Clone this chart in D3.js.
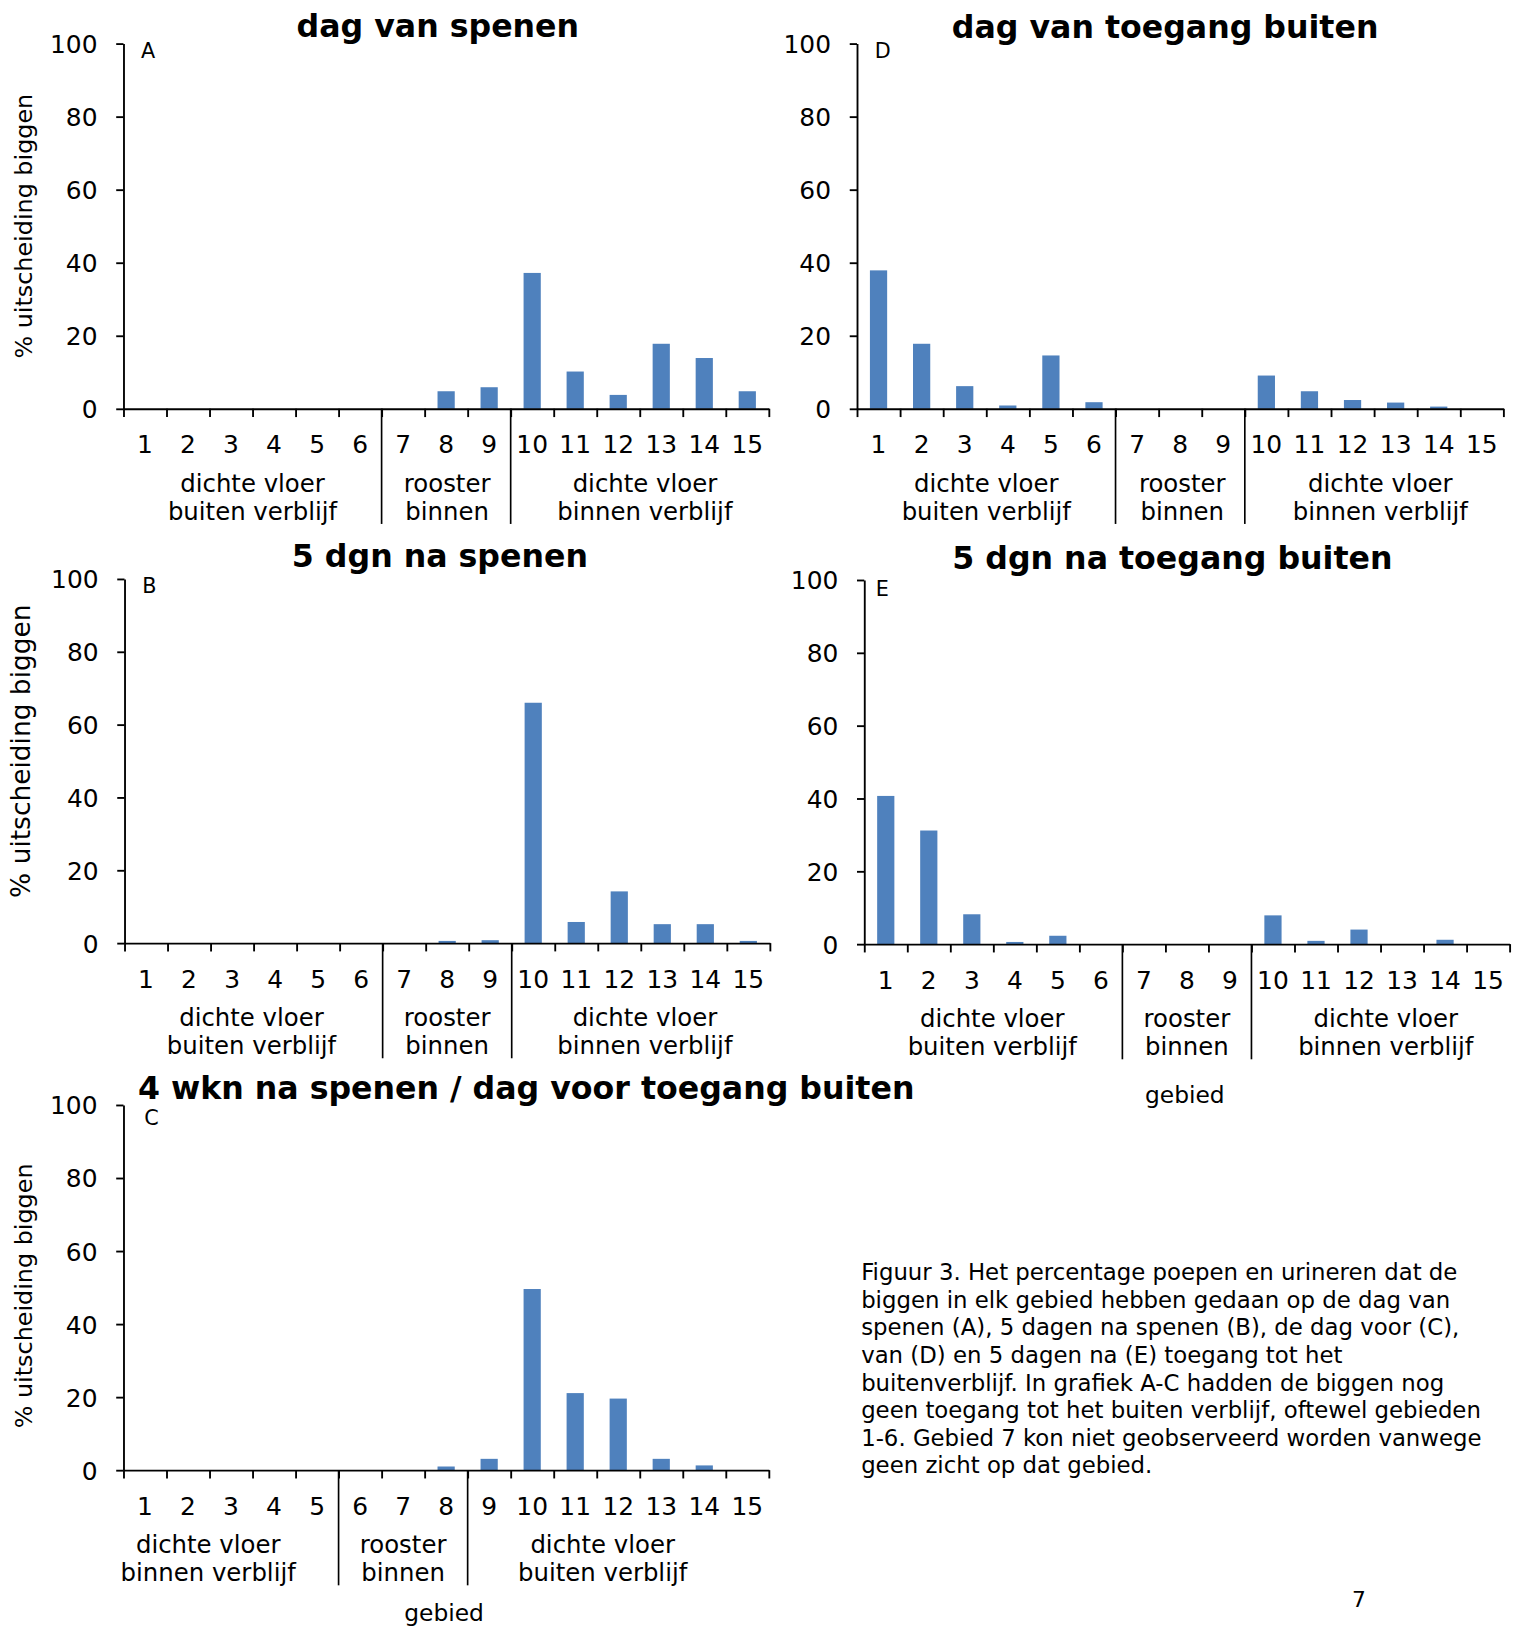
<!DOCTYPE html>
<html>
<head>
<meta charset="utf-8">
<script src="https://cdn.jsdelivr.net/npm/d3@7"></script>
<style>
  body { margin: 0; background: #fff; }
  svg { display: block; }
  text { font-family: "DejaVu Sans", Verdana, sans-serif; fill: #000; }
</style>
</head>
<body>
<svg id="fig"></svg>
<script>
// data
const categories = ["1","2","3","4","5","6","7","8","9","10","11","12","13","14","15"];
const yTicks = [0, 20, 40, 60, 80, 100];

const valuesA = [0, 0, 0, 0, 0, 0, 0, 4.8, 5.9, 37.2, 10.2, 3.8, 17.8, 13.9, 4.8];
const valuesB = [0, 0, 0, 0, 0, 0, 0, 0.6, 0.8, 66.0, 5.8, 14.2, 5.2, 5.2, 0.6];
const valuesC = [0, 0, 0, 0, 0, 0, 0, 1.0, 3.1, 49.6, 21.1, 19.6, 3.1, 1.3, 0];
const valuesD = [37.9, 17.8, 6.2, 0.9, 14.6, 1.8, 0, 0, 0, 9.1, 4.8, 2.4, 1.7, 0.6, 0];
const valuesE = [40.7, 31.2, 8.2, 0.6, 2.3, 0, 0, 0, 0, 7.9, 0.9, 4.0, 0, 1.2, 0];

const groupsStd = [
    { from: 0, to: 6, lines: ["dichte vloer", "buiten verblijf"] },
    { from: 6, to: 9, lines: ["rooster", "binnen"] },
    { from: 9, to: 15, lines: ["dichte vloer", "binnen verblijf"] }
];
const groupsC = [
    { from: 0, to: 5, lines: ["dichte vloer", "binnen verblijf"] },
    { from: 5, to: 8, lines: ["rooster", "binnen"] },
    { from: 8, to: 15, lines: ["dichte vloer", "buiten verblijf"] }
];

const yLabel = "% uitscheiding biggen";
const xLabel = "gebied";

const caption = [
    "Figuur 3. Het percentage poepen en urineren dat de",
    "biggen in elk gebied hebben gedaan op de dag van",
    "spenen (A), 5 dagen na spenen (B), de dag voor (C),",
    "van (D) en 5 dagen na (E) toegang tot het",
    "buitenverblijf. In grafiek A-C hadden de biggen nog",
    "geen toegang tot het buiten verblijf, oftewel gebieden",
    "1-6. Gebied 7 kon niet geobserveerd worden vanwege",
    "geen zicht op dat gebied."
];

// layout (drawn on a 1466 wide grid, then scaled to the window)
const W = 1521, H = 1627, base = 1466;
const barColor = "#4f81bd";

const panels = [
    { letter: "A", title: "dag van spenen", values: valuesA, groups: groupsStd, shift: [0, 1, 5],
      x0: 119, x1: 741, y0: 394, y1: 42, titleX: 422, titleY: 36, anchor: "middle",
      letterDx: 17, letterDy: 14, yLab: { y: 218, size: 23, x: 31 } },
    { letter: "D", title: "dag van toegang buiten", values: valuesD, groups: groupsStd, shift: [0, 2, 6],
      x0: 826, x1: 1449, y0: 394, y1: 42, titleX: 1123, titleY: 36.5, anchor: "middle",
      letterDx: 17, letterDy: 14 },
    { letter: "B", title: "5 dgn na spenen", values: valuesB, groups: groupsStd, shift: [-2, 0, 4],
      x0: 120, x1: 742, y0: 909, y1: 558, titleX: 424, titleY: 546.5, anchor: "middle",
      letterDx: 17, letterDy: 14, yLab: { y: 724, size: 25.5, x: 29 } },
    { letter: "E", title: "5 dgn na toegang buiten", values: valuesE, groups: groupsStd, shift: [-1, 0, 5],
      x0: 833, x1: 1455, y0: 910, y1: 559, titleX: 1130, titleY: 548, anchor: "middle",
      letterDx: 11, letterDy: 15, xLab: { x: 1142, y: 1063 } },
    { letter: "C", title: "4 wkn na spenen / dag voor toegang buiten", values: valuesC, groups: groupsC, shift: [-22, 0, -15],
      x0: 119, x1: 741, y0: 1417, y1: 1065, titleX: 133, titleY: 1059, anchor: "start",
      letterDx: 20, letterDy: 19, yLab: { y: 1249, size: 23, x: 31 }, xLab: { x: 428, y: 1562 } }
];

const svg = d3.select("#fig").attr("width", W).attr("height", H);
const root = svg.append("g").attr("transform", `scale(${W / base})`);

const drawPanel = (p) => {
    const g = root.append("g");

    const x = d3.scaleBand()
        .domain(categories)
        .range([p.x0, p.x1])
        .paddingInner(0.6)
        .paddingOuter(0.3);
    const xEdge = d3.scaleLinear().domain([0, categories.length]).range([p.x0, p.x1]);
    const y = d3.scaleLinear().domain([0, 100]).range([p.y0, p.y1]);

    // bars
    g.selectAll("rect.bar")
        .data(p.values)
        .enter()
        .append("rect")
        .attr("class", "bar")
        .attr("x", (d, i) => x(categories[i]))
        .attr("width", x.bandwidth())
        .attr("y", d => y(d))
        .attr("height", d => y(0) - y(d))
        .attr("fill", barColor);

    // y axis
    const yAxis = d3.axisLeft(y).tickValues(yTicks).tickSize(7).tickSizeOuter(0).tickPadding(18);
    const ya = g.append("g")
        .attr("transform", `translate(${p.x0},0)`)
        .call(yAxis);
    ya.selectAll("text").style("font-size", "24px").attr("dy", "0.36em");
    ya.selectAll("path, line").attr("stroke", "#000").attr("stroke-width", 1.8);

    // x axis: boundary ticks
    const xAxisEdges = d3.axisBottom(xEdge)
        .tickValues(d3.range(categories.length + 1))
        .tickSize(8).tickSizeOuter(0).tickFormat("");
    const xa = g.append("g")
        .attr("transform", `translate(0,${p.y0})`)
        .call(xAxisEdges);
    xa.selectAll("path, line").attr("stroke", "#000").attr("stroke-width", 1.8);

    // x axis: category labels
    const xAxisLabels = d3.axisBottom(x).tickSize(0).tickPadding(0);
    const xl = g.append("g")
        .attr("transform", `translate(0,${p.y0})`)
        .call(xAxisLabels);
    xl.select(".domain").remove();
    xl.selectAll("text").style("font-size", "24px").attr("y", 43).attr("dy", 0);

    // group separators and labels
    p.groups.forEach((gr, gi) => {
        if (gi > 0) {
            g.append("line")
                .attr("x1", xEdge(gr.from)).attr("x2", xEdge(gr.from))
                .attr("y1", p.y0).attr("y2", p.y0 + 111)
                .attr("stroke", "#000").attr("stroke-width", 1.6);
        }
        const cx = (xEdge(gr.from) + xEdge(gr.to)) / 2 + p.shift[gi];
        gr.lines.forEach((ln, li) => {
            g.append("text")
                .attr("x", cx).attr("y", p.y0 + 80 + li * 27)
                .attr("text-anchor", "middle")
                .style("font-size", "23.5px")
                .text(ln);
        });
    });

    // title
    g.append("text")
        .attr("x", p.titleX).attr("y", p.titleY)
        .attr("text-anchor", p.anchor)
        .style("font-size", "30.5px").style("font-weight", "bold")
        .text(p.title);

    // panel letter
    g.append("text")
        .attr("x", p.x0 + p.letterDx).attr("y", y(100) + p.letterDy)
        .style("font-size", "20px")
        .text(p.letter);

    if (p.yLab) {
        g.append("text")
            .attr("transform", `translate(${p.yLab.x},${p.yLab.y}) rotate(-90)`)
            .attr("text-anchor", "middle")
            .style("font-size", p.yLab.size + "px")
            .text(yLabel);
    }
    if (p.xLab) {
        g.append("text")
            .attr("x", p.xLab.x).attr("y", p.xLab.y)
            .attr("text-anchor", "middle")
            .style("font-size", "22.5px")
            .text(xLabel);
    }
};

panels.forEach(drawPanel);

// caption
root.append("g").selectAll("text")
    .data(caption)
    .enter()
    .append("text")
    .attr("x", 830)
    .attr("y", (d, i) => 1234 + i * 26.6)
    .style("font-size", "22px")
    .text(d => d);

root.append("text")
    .attr("x", 1303).attr("y", 1549)
    .style("font-size", "21px")
    .text("7");
</script>
</body>
</html>
